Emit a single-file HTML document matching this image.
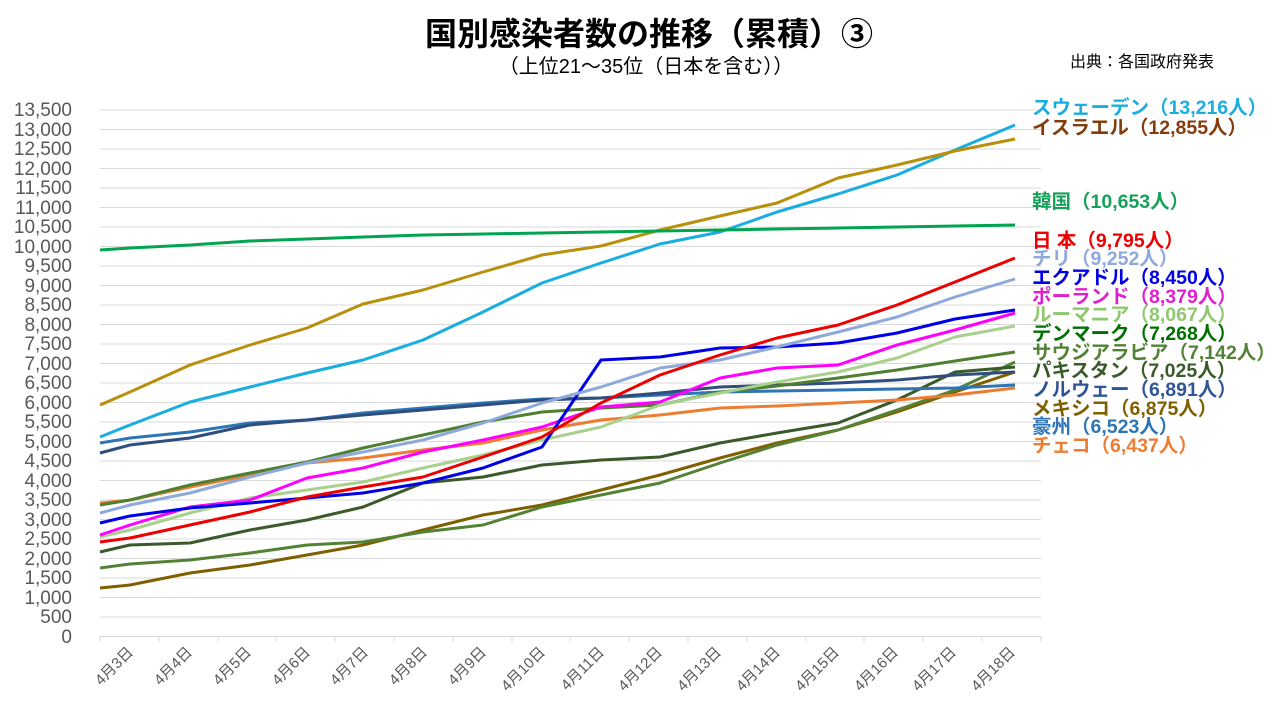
<!DOCTYPE html>
<html><head><meta charset="utf-8"><style>
body{margin:0;background:#fff;}
svg{display:block;font-family:"Liberation Sans","Noto Sans CJK JP",sans-serif;}
</style></head><body>
<svg width="1280" height="720" viewBox="0 0 1280 720" xmlns="http://www.w3.org/2000/svg">
<text x="649" y="45" text-anchor="middle" font-size="32" font-weight="bold" fill="#000">国別感染者数の推移（累積）③</text>
<text x="646" y="73" text-anchor="middle" font-size="20" fill="#000">（上位21～35位（日本を含む））</text>
<text x="1070" y="67" font-size="16" fill="#000">出典：各国政府発表</text>
<g stroke="#d9d9d9" stroke-width="1">
<line x1="100" x2="1041" y1="636.5" y2="636.5"/>
<line x1="100" x2="1041" y1="617" y2="617"/><line x1="100" x2="1041" y1="597.5" y2="597.5"/><line x1="100" x2="1041" y1="578" y2="578"/><line x1="100" x2="1041" y1="558.5" y2="558.5"/><line x1="100" x2="1041" y1="539" y2="539"/><line x1="100" x2="1041" y1="519.5" y2="519.5"/><line x1="100" x2="1041" y1="500" y2="500"/><line x1="100" x2="1041" y1="480.5" y2="480.5"/><line x1="100" x2="1041" y1="461" y2="461"/><line x1="100" x2="1041" y1="441.5" y2="441.5"/><line x1="100" x2="1041" y1="422" y2="422"/><line x1="100" x2="1041" y1="402.5" y2="402.5"/><line x1="100" x2="1041" y1="383" y2="383"/><line x1="100" x2="1041" y1="363.5" y2="363.5"/><line x1="100" x2="1041" y1="344" y2="344"/><line x1="100" x2="1041" y1="324.5" y2="324.5"/><line x1="100" x2="1041" y1="305" y2="305"/><line x1="100" x2="1041" y1="285.5" y2="285.5"/><line x1="100" x2="1041" y1="266" y2="266"/><line x1="100" x2="1041" y1="246.5" y2="246.5"/><line x1="100" x2="1041" y1="227" y2="227"/><line x1="100" x2="1041" y1="207.5" y2="207.5"/><line x1="100" x2="1041" y1="188" y2="188"/><line x1="100" x2="1041" y1="168.5" y2="168.5"/><line x1="100" x2="1041" y1="149" y2="149"/><line x1="100" x2="1041" y1="129.5" y2="129.5"/><line x1="100" x2="1041" y1="110" y2="110"/>
<line x1="100" x2="100" y1="636" y2="642"/><line x1="159" x2="159" y1="636" y2="642"/><line x1="218" x2="218" y1="636" y2="642"/><line x1="276" x2="276" y1="636" y2="642"/><line x1="335" x2="335" y1="636" y2="642"/><line x1="394" x2="394" y1="636" y2="642"/><line x1="453" x2="453" y1="636" y2="642"/><line x1="512" x2="512" y1="636" y2="642"/><line x1="570" x2="570" y1="636" y2="642"/><line x1="629" x2="629" y1="636" y2="642"/><line x1="688" x2="688" y1="636" y2="642"/><line x1="747" x2="747" y1="636" y2="642"/><line x1="806" x2="806" y1="636" y2="642"/><line x1="864" x2="864" y1="636" y2="642"/><line x1="923" x2="923" y1="636" y2="642"/><line x1="982" x2="982" y1="636" y2="642"/><line x1="1041" x2="1041" y1="636" y2="642"/>
</g>
<g font-size="19" fill="#595959" text-anchor="end">
<text x="72" y="643">0</text><text x="72" y="623">500</text><text x="72" y="604">1,000</text><text x="72" y="584">1,500</text><text x="72" y="565">2,000</text><text x="72" y="545">2,500</text><text x="72" y="526">3,000</text><text x="72" y="506">3,500</text><text x="72" y="487">4,000</text><text x="72" y="467">4,500</text><text x="72" y="448">5,000</text><text x="72" y="428">5,500</text><text x="72" y="409">6,000</text><text x="72" y="389">6,500</text><text x="72" y="370">7,000</text><text x="72" y="350">7,500</text><text x="72" y="331">8,000</text><text x="72" y="311">8,500</text><text x="72" y="292">9,000</text><text x="72" y="272">9,500</text><text x="72" y="253">10,000</text><text x="72" y="233">10,500</text><text x="72" y="214">11,000</text><text x="72" y="194">11,500</text><text x="72" y="175">12,000</text><text x="72" y="155">12,500</text><text x="72" y="136">13,000</text><text x="72" y="116">13,500</text>
</g>
<g font-size="15" fill="#595959" text-anchor="end">
<text transform="translate(134,653) rotate(-45)">4月3日</text><text transform="translate(193,653) rotate(-45)">4月4日</text><text transform="translate(252,653) rotate(-45)">4月5日</text><text transform="translate(311,653) rotate(-45)">4月6日</text><text transform="translate(369,653) rotate(-45)">4月7日</text><text transform="translate(428,653) rotate(-45)">4月8日</text><text transform="translate(487,653) rotate(-45)">4月9日</text><text transform="translate(546,653) rotate(-45)">4月10日</text><text transform="translate(605,653) rotate(-45)">4月11日</text><text transform="translate(663,653) rotate(-45)">4月12日</text><text transform="translate(722,653) rotate(-45)">4月13日</text><text transform="translate(781,653) rotate(-45)">4月14日</text><text transform="translate(840,653) rotate(-45)">4月15日</text><text transform="translate(899,653) rotate(-45)">4月16日</text><text transform="translate(957,653) rotate(-45)">4月17日</text><text transform="translate(1016,653) rotate(-45)">4月18日</text>
</g>
<g fill="none" stroke-width="3" stroke-linejoin="round">
<polyline stroke="#7F6000" points="100,588 130,585 190,573 250,565 307,555 363,545 423,530 483,515 542,505 601,490 660,475 720,458 777,443 838,430 897,412 955,392 1015,372"/>
<polyline stroke="#548235" points="100,568 130,564 190,560 250,553 307,545 363,542 423,532 483,525 542,507 601,495 660,483 720,463 777,445 838,430 897,410 955,390 1015,362"/>
<polyline stroke="#3B5A2A" points="100,552 130,545 190,543 250,530 307,520 363,507 423,483 483,477 542,465 601,460 660,457 720,443 777,433 838,423 897,400 955,372 1015,367"/>
<polyline stroke="#ED7D31" points="100,503 130,500 190,487 250,475 307,463 363,458 423,450 483,443 542,430 601,420 660,415 720,408 777,406 838,403 897,400 955,395 1015,388"/>
<polyline stroke="#2E75B6" points="100,443 130,438 190,432 250,423 307,420 363,413 423,408 483,403 542,399 601,398 660,395 720,392 777,391 838,390 897,389 955,388 1015,385"/>
<polyline stroke="#2F4E7E" points="100,453 130,445 190,438 250,425 307,420 363,415 423,410 483,405 542,400 601,398 660,393 720,387 777,385 838,383 897,380 955,375 1015,372"/>
<polyline stroke="#4F7F30" points="100,505 130,500 190,485 250,473 307,462 363,448 423,435 483,422 542,412 601,408 660,405 720,392 777,386 838,378 897,370 955,361 1015,352"/>
<polyline stroke="#A9D18E" points="100,537 130,530 190,513 250,498 307,490 363,482 423,468 483,455 542,440 601,427 660,405 720,393 777,382 838,372 897,358 955,337 1015,326"/>
<polyline stroke="#FF00FF" points="100,535 130,525 190,507 250,500 307,478 363,468 423,452 483,440 542,427 601,407 660,402 720,378 777,368 838,365 897,345 955,330 1015,313"/>
<polyline stroke="#0000E6" points="100,523 130,516 190,508 250,503 307,498 363,493 423,483 483,468 542,447 601,360 660,357 720,348 777,347 838,343 897,333 955,319 1015,310"/>
<polyline stroke="#8EA9DB" points="100,513 130,505 190,493 250,477 307,463 363,452 423,440 483,423 542,403 601,387 660,368 720,360 777,347 838,332 897,317 955,297 1015,279"/>
<polyline stroke="#EE0000" points="100,542 130,538 190,525 250,512 307,497 363,487 423,477 483,457 542,437 601,403 660,375 720,355 777,338 838,325 897,305 955,282 1015,258"/>
<polyline stroke="#1AADE0" points="100,437 130,425 190,402 250,387 307,373 363,360 423,340 483,312 542,283 601,263 660,244 720,232 777,212 838,194 897,175 955,150 1015,125"/>
<polyline stroke="#B8900B" points="100,405 130,392 190,365 250,345 307,328 363,304 423,290 483,272 542,255 601,246 660,230 720,216 777,203 838,178 897,165 955,151 1015,139"/>
<polyline stroke="#00A550" points="100,250 130,248 190,245 250,241 307,239 363,237 423,235 483,234 542,233 601,232 660,231 720,230 777,229 838,228 897,227 955,226 1015,225"/>
</g>
<g font-size="19.5" font-weight="bold">
<text x="1032" y="114" fill="#1AADE0">スウェーデン（13,216人）</text>
<text x="1032" y="134" fill="#843C0C">イスラエル（12,855人）</text>
<text x="1032" y="208" fill="#17A05A">韓国（10,653人）</text>
<text x="1032" y="247" fill="#EE0000">日 本（9,795人）</text>
<text x="1032" y="265" fill="#8EA9DB">チリ（9,252人）</text>
<text x="1032" y="284" fill="#0000E6">エクアドル（8,450人）</text>
<text x="1032" y="303" fill="#E020D0">ポーランド（8,379人）</text>
<text x="1032" y="321" fill="#8FC86E">ルーマニア（8,067人）</text>
<text x="1032" y="340" fill="#007000">デンマーク（7,268人）</text>
<text x="1032" y="359" fill="#548235">サウジアラビア（7,142人）</text>
<text x="1032" y="377" fill="#3B5A2A">パキスタン（7,025人）</text>
<text x="1032" y="396" fill="#2F5597">ノルウェー（6,891人）</text>
<text x="1032" y="415" fill="#7F6000">メキシコ（6,875人）</text>
<text x="1032" y="433" fill="#2E75B6">豪州（6,523人）</text>
<text x="1032" y="452" fill="#ED7D31">チェコ（6,437人）</text>
</g>
</svg>
</body></html>
